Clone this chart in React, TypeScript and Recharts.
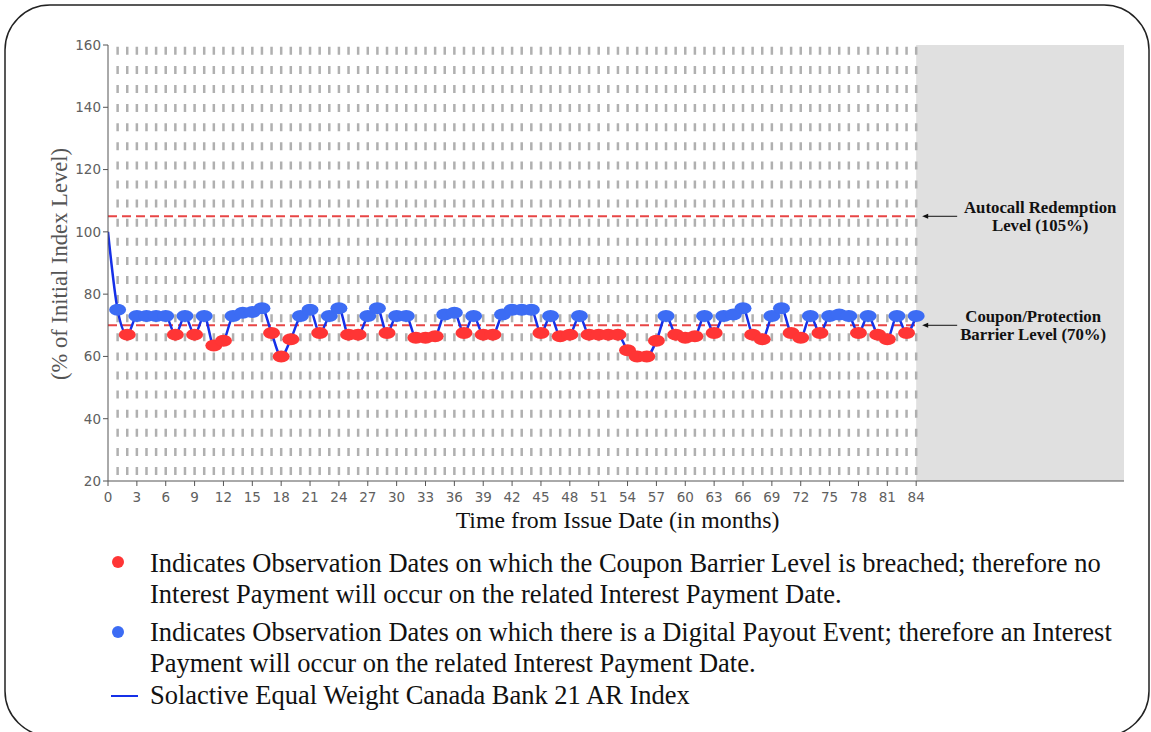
import React from 'react';
import { LineChart, Line, XAxis, YAxis, ReferenceLine, ReferenceArea } from 'recharts';

const months: number[] = Array.from({ length: 85 }, (_, i) => i);
const indexValues: number[] = [
  100, 75, 67, 73, 73, 73, 73, 67, 73, 67, 73, 63.5, 65, 73, 74, 74.3, 75.5, 67.5, 60, 65.5,
  73, 75, 67.5, 73, 75.5, 67, 67, 73, 75.5, 67.5, 73, 73, 66, 66, 66.5, 73.5, 74, 67.5, 73, 67,
  67, 73.5, 75, 75, 75, 67.5, 73, 66.5, 67, 73, 67, 67, 67, 67, 62, 60, 60, 65, 73, 67,
  66, 66.5, 73, 67.5, 73, 73.5, 75.5, 67, 65.5, 73, 75.5, 67.5, 66, 73, 67.5, 73, 73.5, 73, 67.5, 73,
  67, 65.5, 73, 67.5, 73,
];
const xTicks: number[] = [0, 3, 6, 9, 12, 15, 18, 21, 24, 27, 30, 33, 36, 39, 42, 45, 48, 51, 54, 57, 60, 63, 66, 69, 72, 75, 78, 81, 84];
const yTicks: number[] = [20, 40, 60, 80, 100, 120, 140, 160];
const autocallLevel = 105;
const barrierLevel = 70;
const lastMonth = 84;
const xMax = 105.6;

const RED = '#ff3535';
const BLUE = '#3c6cf4';
const LINE = '#1530e8';

const data = months.map((m, i) => ({ m, v: indexValues[i] }));
const gridMonths = months.filter((m) => m > 0);

const renderDot = (props: any) => {
  const { cx, cy, payload, index } = props;
  if (payload.m === 0 || cx == null || cy == null) return <g key={`d${index}`} />;
  const c = payload.v < barrierLevel ? RED : BLUE;
  return <ellipse key={`d${index}`} cx={cx} cy={cy} rx={8.5} ry={6} fill={c} />;
};

const makeLabel = (lines: string[], centerOffset: number) => (props: any) => {
  const vb = props.viewBox || {};
  const x = (vb.x || 0) + (vb.width || 0);
  const y = vb.y || 0;
  return (
    <g>
      <line x1={x + 8} y1={y} x2={x + 41} y2={y} stroke="#111" strokeWidth={1} />
      <polygon points={`${x + 6},${y} ${x + 12},${y - 2.5} ${x + 12},${y + 2.5}`} fill="#111" />
      <text
        x={x + centerOffset}
        y={y - 3}
        textAnchor="middle"
        fontFamily="Liberation Serif"
        fontWeight="bold"
        fontSize={16.8}
        fill="#111"
      >
        {lines[0]}
      </text>
      <text
        x={x + centerOffset}
        y={y + 14.5}
        textAnchor="middle"
        fontFamily="Liberation Serif"
        fontWeight="bold"
        fontSize={16.8}
        fill="#111"
      >
        {lines[1]}
      </text>
    </g>
  );
};

const legendFont = { fontFamily: 'Liberation Serif', fontSize: 26.5, fill: '#111' };
const tickStyle = { fill: '#606060', fontSize: 13.5, fontFamily: 'DejaVu Sans' };

export default function App() {
  return (
    <div style={{ position: 'absolute', left: 0, top: 0, width: 1151, height: 732, background: '#fff', overflow: 'hidden' }}>
      <svg width={1151} height={732} style={{ position: 'absolute', left: 0, top: 0 }}>
        <rect x={5} y={5} width={1144} height={731} rx={45} ry={45} fill="none" stroke="#222" strokeWidth={1.5} />
        <circle cx={118} cy={562} r={6} fill={RED} />
        <text x={150} y={571.7} {...legendFont}>
          Indicates Observation Dates on which the Coupon Barrier Level is breached; therefore no
        </text>
        <text x={150} y={602.5} {...legendFont}>
          Interest Payment will occur on the related Interest Payment Date.
        </text>
        <circle cx={118} cy={632} r={6} fill={BLUE} />
        <text x={150} y={640.7} {...legendFont}>
          Indicates Observation Dates on which there is a Digital Payout Event; therefore an Interest
        </text>
        <text x={150} y={672.3} {...legendFont}>
          Payment will occur on the related Interest Payment Date.
        </text>
        <line x1={111} y1={696} x2={138} y2={696} stroke={LINE} strokeWidth={2} />
        <text x={150} y={704} {...legendFont}>
          Solactive Equal Weight Canada Bank 21 AR Index
        </text>
      </svg>
      <div style={{ position: 'absolute', left: 0, top: 0 }}>
        <LineChart width={1151} height={732} data={data} margin={{ top: 45, right: 27, bottom: 221, left: 48 }}>
          <XAxis
            dataKey="m"
            type="number"
            domain={[0, xMax]}
            ticks={xTicks}
            interval={0}
            allowDataOverflow
            height={30}
            tickSize={5}
            tickMargin={6}
            stroke="#555"
            tick={tickStyle}
          />
          <YAxis
            type="number"
            domain={[20, 160]}
            ticks={yTicks}
            interval={0}
            width={60}
            tickSize={5}
            tickMargin={2}
            stroke="#555"
            tick={tickStyle}
          />
          <ReferenceArea x1={lastMonth} x2={xMax} y1={20} y2={160} fill="#e0e0e0" fillOpacity={1} stroke="none" />
          {gridMonths.map((m) => (
            <ReferenceLine
              key={`g${m}`}
              x={m}
              stroke="#b0b0b0"
              strokeWidth={2.5}
              strokeDasharray="8 11.1"
              strokeDashoffset={13.1}
            />
          ))}
          <ReferenceLine
            segment={[{ x: 0, y: autocallLevel }, { x: lastMonth, y: autocallLevel }]}
            stroke="#e84545"
            strokeWidth={2}
            strokeDasharray="9 5"
            label={{ content: makeLabel(['Autocall Redemption', 'Level (105%)'], 124) } as any}
          />
          <ReferenceLine
            segment={[{ x: 0, y: barrierLevel }, { x: lastMonth, y: barrierLevel }]}
            stroke="#e84545"
            strokeWidth={2}
            strokeDasharray="9 5"
            label={{ content: makeLabel(['Coupon/Protection', 'Barrier Level (70%)'], 117) } as any}
          />
          <Line
            dataKey="v"
            type="monotone"
            stroke="none"
            dot={renderDot}
            activeDot={false}
            isAnimationActive={false}
          />
          <Line
            dataKey="v"
            type="monotone"
            stroke={LINE}
            strokeWidth={2.5}
            dot={false}
            activeDot={false}
            isAnimationActive={false}
          />
        </LineChart>
      </div>
      <svg width={1151} height={732} style={{ position: 'absolute', left: 0, top: 0, pointerEvents: 'none' }}>
        <text
          x={67}
          y={264}
          transform="rotate(-90, 67, 264)"
          textAnchor="middle"
          fontFamily="Liberation Serif"
          fontSize={22.6}
          fill="#555"
        >
          (% of Initial Index Level)
        </text>
        <text x={617.5} y={528.3} textAnchor="middle" fontFamily="Liberation Serif" fontSize={23.8} fill="#111">
          Time from Issue Date (in months)
        </text>
      </svg>
    </div>
  );
}
